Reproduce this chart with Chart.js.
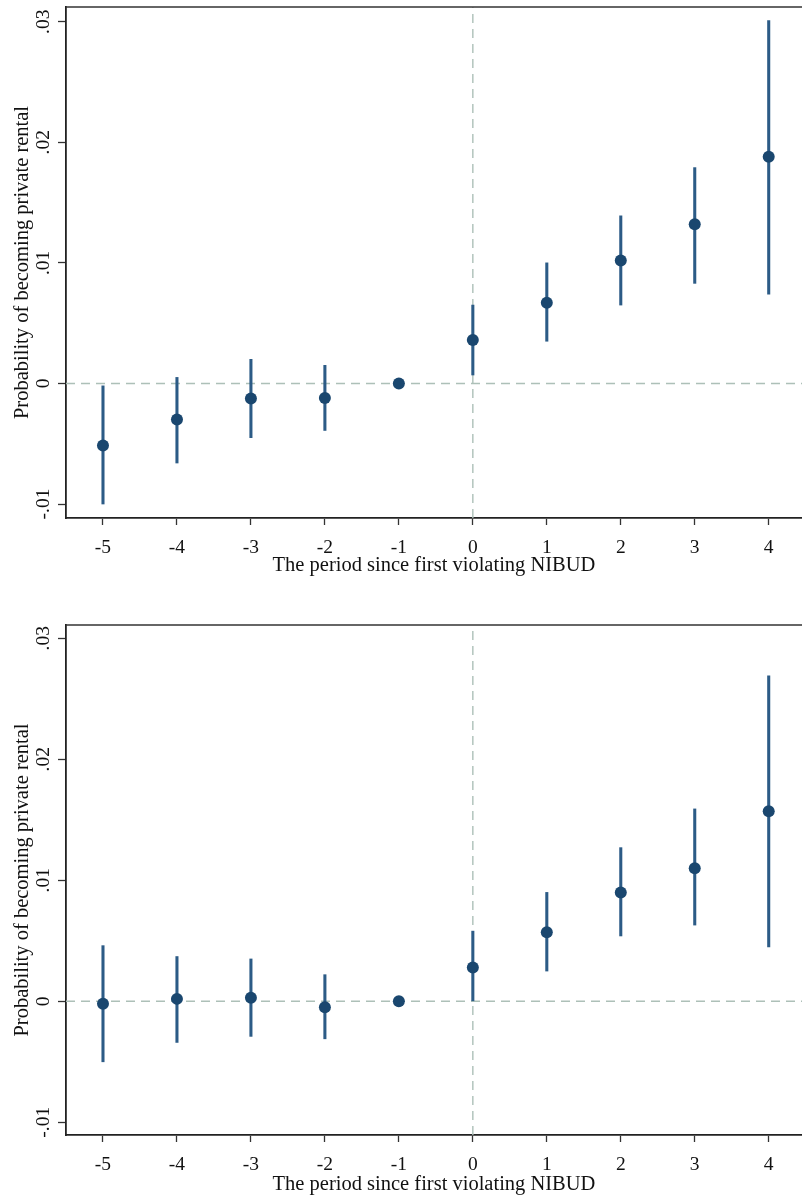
<!DOCTYPE html>
<html><head><meta charset="utf-8">
<script src="https://cdn.jsdelivr.net/npm/chart.js@4"></script>
<style>
html,body{margin:0;padding:0;background:#fff;}
#wrap{position:relative;width:802px;height:1199px;overflow:hidden;}
.c{position:absolute;left:0;}
</style></head>
<body><div id="wrap">
<div class="c" style="top:0;width:802px;height:600px;"><canvas id="c1" width="802" height="600"></canvas></div>
<div class="c" style="top:600px;width:802px;height:599px;"><canvas id="c2" width="802" height="599"></canvas></div>
</div>
<script>
const periods = [-5,-4,-3,-2,-1,0,1,2,3,4];
const xTickValues = [-5,-4,-3,-2,-1,0,1,2,3,4];
const yTickValues = [-0.01,0,0.01,0.02,0.03];

// Panel 1
const est1  = [-0.00515,-0.0030,-0.00125,-0.0012,0.0,0.0036,0.0067,0.0102,0.0132,0.0188];
const low1  = [-0.0100,-0.0066,-0.0045,-0.0039,0.0,0.0007,0.0035,0.0065,0.0083,0.0074];
const high1 = [-0.0002,0.0005,0.0020,0.0015,0.0,0.0065,0.0100,0.0139,0.0179,0.0301];

// Panel 2
const est2  = [-0.0002,0.0002,0.0003,-0.0005,0.0,0.0028,0.0057,0.0090,0.0110,0.0157];
const low2  = [-0.0050,-0.0034,-0.0029,-0.0031,0.0,0.0000,0.0025,0.0054,0.0063,0.0045];
const high2 = [0.0046,0.0037,0.0035,0.0022,0.0,0.0058,0.0090,0.0127,0.0159,0.0269];

const xTitle = 'The period since first violating NIBUD';
const yTitle = 'Probability of becoming private rental';

const SERIF = "'Liberation Serif','Times New Roman',serif";
const TXT = '#111111';
const REF = '#adc0b8';

const topBorder = {
  id:'topBorder',
  afterDraw(chart){
    const a = chart.chartArea, ctx = chart.ctx;
    ctx.save();
    ctx.strokeStyle = '#333'; ctx.lineWidth = 1.6;
    ctx.beginPath(); ctx.moveTo(a.left, a.top); ctx.lineTo(chart.width, a.top); ctx.stroke();
    ctx.restore();
  }
};

function fmt(v){
  if (Math.abs(v) < 1e-9) return '0';
  let s = (Math.round(v*100)/100).toString();
  return s.replace('0.', '.');
}

function make(id, est, low, high, cfg){
  const ymin = cfg.ymin, ymax = cfg.ymax, xmin = -5.5, xmax = 4.45;
  new Chart(document.getElementById(id), {
    data: {
      datasets: [
        { type:'line', data:[{x:xmin,y:0},{x:xmax,y:0}], borderColor:REF, borderWidth:1.4,
          borderDash:[9,6], pointRadius:0, order:5 },
        { type:'line', data:[{x:0,y:ymin},{x:0,y:ymax}], borderColor:REF, borderWidth:1.4,
          borderDash:[9,6], pointRadius:0, order:5 },
        { type:'bar', data: periods.map((p,i)=>({x:p, y:[low[i], high[i]]})),
          backgroundColor:'#2c5b86', borderWidth:0, barThickness:2.4, order:3 },
        { type:'scatter', data: periods.map((p,i)=>({x:p, y:est[i]})),
          backgroundColor:'#1a476f', borderColor:'#1a476f', pointRadius:6, borderWidth:0, order:1 }
      ]
    },
    options: {
      responsive:false, animation:false,
      layout:{ autoPadding:false, padding:{ top:cfg.padTop, left:10, right:0, bottom:cfg.padBottom } },
      plugins:{ legend:{display:false}, tooltip:{enabled:false} },
      scales: {
        x: {
          type:'linear', min:xmin, max:xmax, offset:false,
          afterBuildTicks(s){ s.ticks = xTickValues.map(v=>({value:v})); },
          afterFit(s){ s.height = cfg.xAxisH; s.paddingLeft = 0; s.paddingRight = 0; },
          ticks:{ callback:(v)=>String(v), font:{family:SERIF, size:19.5}, color:TXT, padding:11, maxRotation:0, autoSkip:false },
          grid:{ offset:false, drawOnChartArea:false, drawTicks:true, tickLength:7, tickColor:'#333', tickWidth:1.3 },
          border:{ display:true, color:'#222', width:1.8 },
          title:{ display:true, text:xTitle, font:{family:SERIF, size:20.5}, color:TXT, padding:{top:0,bottom:0} }
        },
        y: {
          type:'linear', min:ymin, max:ymax,
          afterBuildTicks(s){ s.ticks = yTickValues.map(v=>({value:v})); },
          afterFit(s){ s.width = 56; s.paddingTop = 0; s.paddingBottom = 0; },
          ticks:{ callback:(v)=>fmt(v), font:{family:SERIF, size:19.5}, color:TXT, padding:-1,
                  minRotation:90, maxRotation:90, crossAlign:'center', autoSkip:false },
          grid:{ drawOnChartArea:false, drawTicks:true, tickLength:8, tickColor:'#333', tickWidth:1.3 },
          border:{ display:true, color:'#222', width:1.8 },
          title:{ display:true, text:yTitle, font:{family:SERIF, size:20.5}, color:TXT, padding:{top:0,bottom:0} }
        }
      }
    },
    plugins:[topBorder]
  });
}

make('c1', est1, low1, high1, {ymin:-0.01116, ymax:0.03122, padTop:7, padBottom:22, xAxisH:60});
make('c2', est2, low2, high2, {ymin:-0.01105, ymax:0.0311, padTop:25, padBottom:2, xAxisH:62});
</script>
</body></html>
